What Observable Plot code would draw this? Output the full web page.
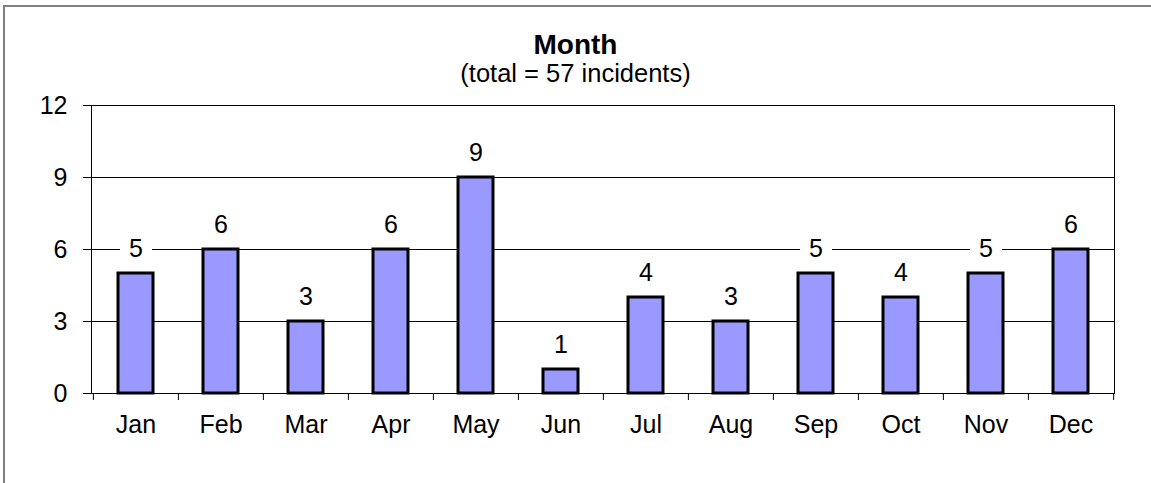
<!DOCTYPE html>
<html>
<head>
<meta charset="utf-8">
<script src="https://cdn.jsdelivr.net/npm/d3@7"></script>
<script src="https://cdn.jsdelivr.net/npm/@observablehq/plot@0.6"></script>
<style>
  html, body { margin: 0; padding: 0; background: #fff; overflow: hidden; }
  #wrap { position: relative; width: 1151px; height: 483px; overflow: hidden; font-family: "Liberation Sans", Arial, sans-serif; }
  #border { position: absolute; left: 3px; top: 5px; width: 1200px; height: 600px; border-top: 2px solid #808080; border-left: 2px solid #808080; }
  .t { position: absolute; left: 0; width: 1151px; text-align: center; color: #000; }
  #title { top: 31px; font-size: 28px; line-height: 28px; font-weight: bold; }
  #subtitle { top: 61px; font-size: 25.5px; line-height: 25px; }
  #chart { position: absolute; left: 0; top: 0; }
</style>
</head>
<body>
<div id="wrap">
  <div id="border"></div>
  <div id="chart"></div>
  <div class="t" id="title">Month</div>
  <div class="t" id="subtitle">(total = 57 incidents)</div>
</div>
<script>
const months = ["Jan","Feb","Mar","Apr","May","Jun","Jul","Aug","Sep","Oct","Nov","Dec"];
const incidents = [5, 6, 3, 6, 9, 1, 4, 3, 5, 4, 5, 6];
const yTicks = [0, 3, 6, 9, 12];

const data = months.map((m, i) => ({month: m, value: incidents[i]}));

const W = 1151, H = 483;
const mL = 91, mR = 37, mT = 105, mB = 90;
const step = (W - mL - mR) / months.length;

const chart = Plot.plot({
  width: W,
  height: H,
  marginLeft: mL,
  marginRight: mR,
  marginTop: mT,
  marginBottom: mB,
  style: {fontSize: "25px", fontFamily: "'Liberation Sans', Arial, sans-serif", color: "#000", background: "transparent"},
  x: {domain: months, paddingInner: 0.59, paddingOuter: 0.295, tickSize: 0, tickPadding: 22, label: null},
  y: {domain: [0, 12], ticks: yTicks, tickSize: 8, tickPadding: 16, label: null},
  marks: [
    Plot.ruleY(yTicks, {stroke: "#000", strokeWidth: 1}),
    Plot.frame({stroke: "#000", strokeWidth: 1}),
    Plot.ruleX(months, {x: d => d, y1: 0, y2: 0, dx: -step / 2, insetBottom: -7, stroke: "#000"}),
    Plot.ruleX(months.slice(-1), {x: d => d, y1: 0, y2: 0, dx: step / 2, insetBottom: -7, stroke: "#000"}),
    Plot.barY(data, {x: "month", y: "value", fill: "#9999ff", stroke: "#000", strokeWidth: 3}),
    Plot.dot(data, {x: "month", y: "value", dy: -25, symbol: "square", r: 18, fill: "#fff", stroke: "none"}),
    Plot.text(data, {x: "month", y: "value", text: d => String(d.value), dy: -25, fill: "#000", fontSize: 25})
  ]
});
document.getElementById("chart").appendChild(chart);
</script>
</body>
</html>
